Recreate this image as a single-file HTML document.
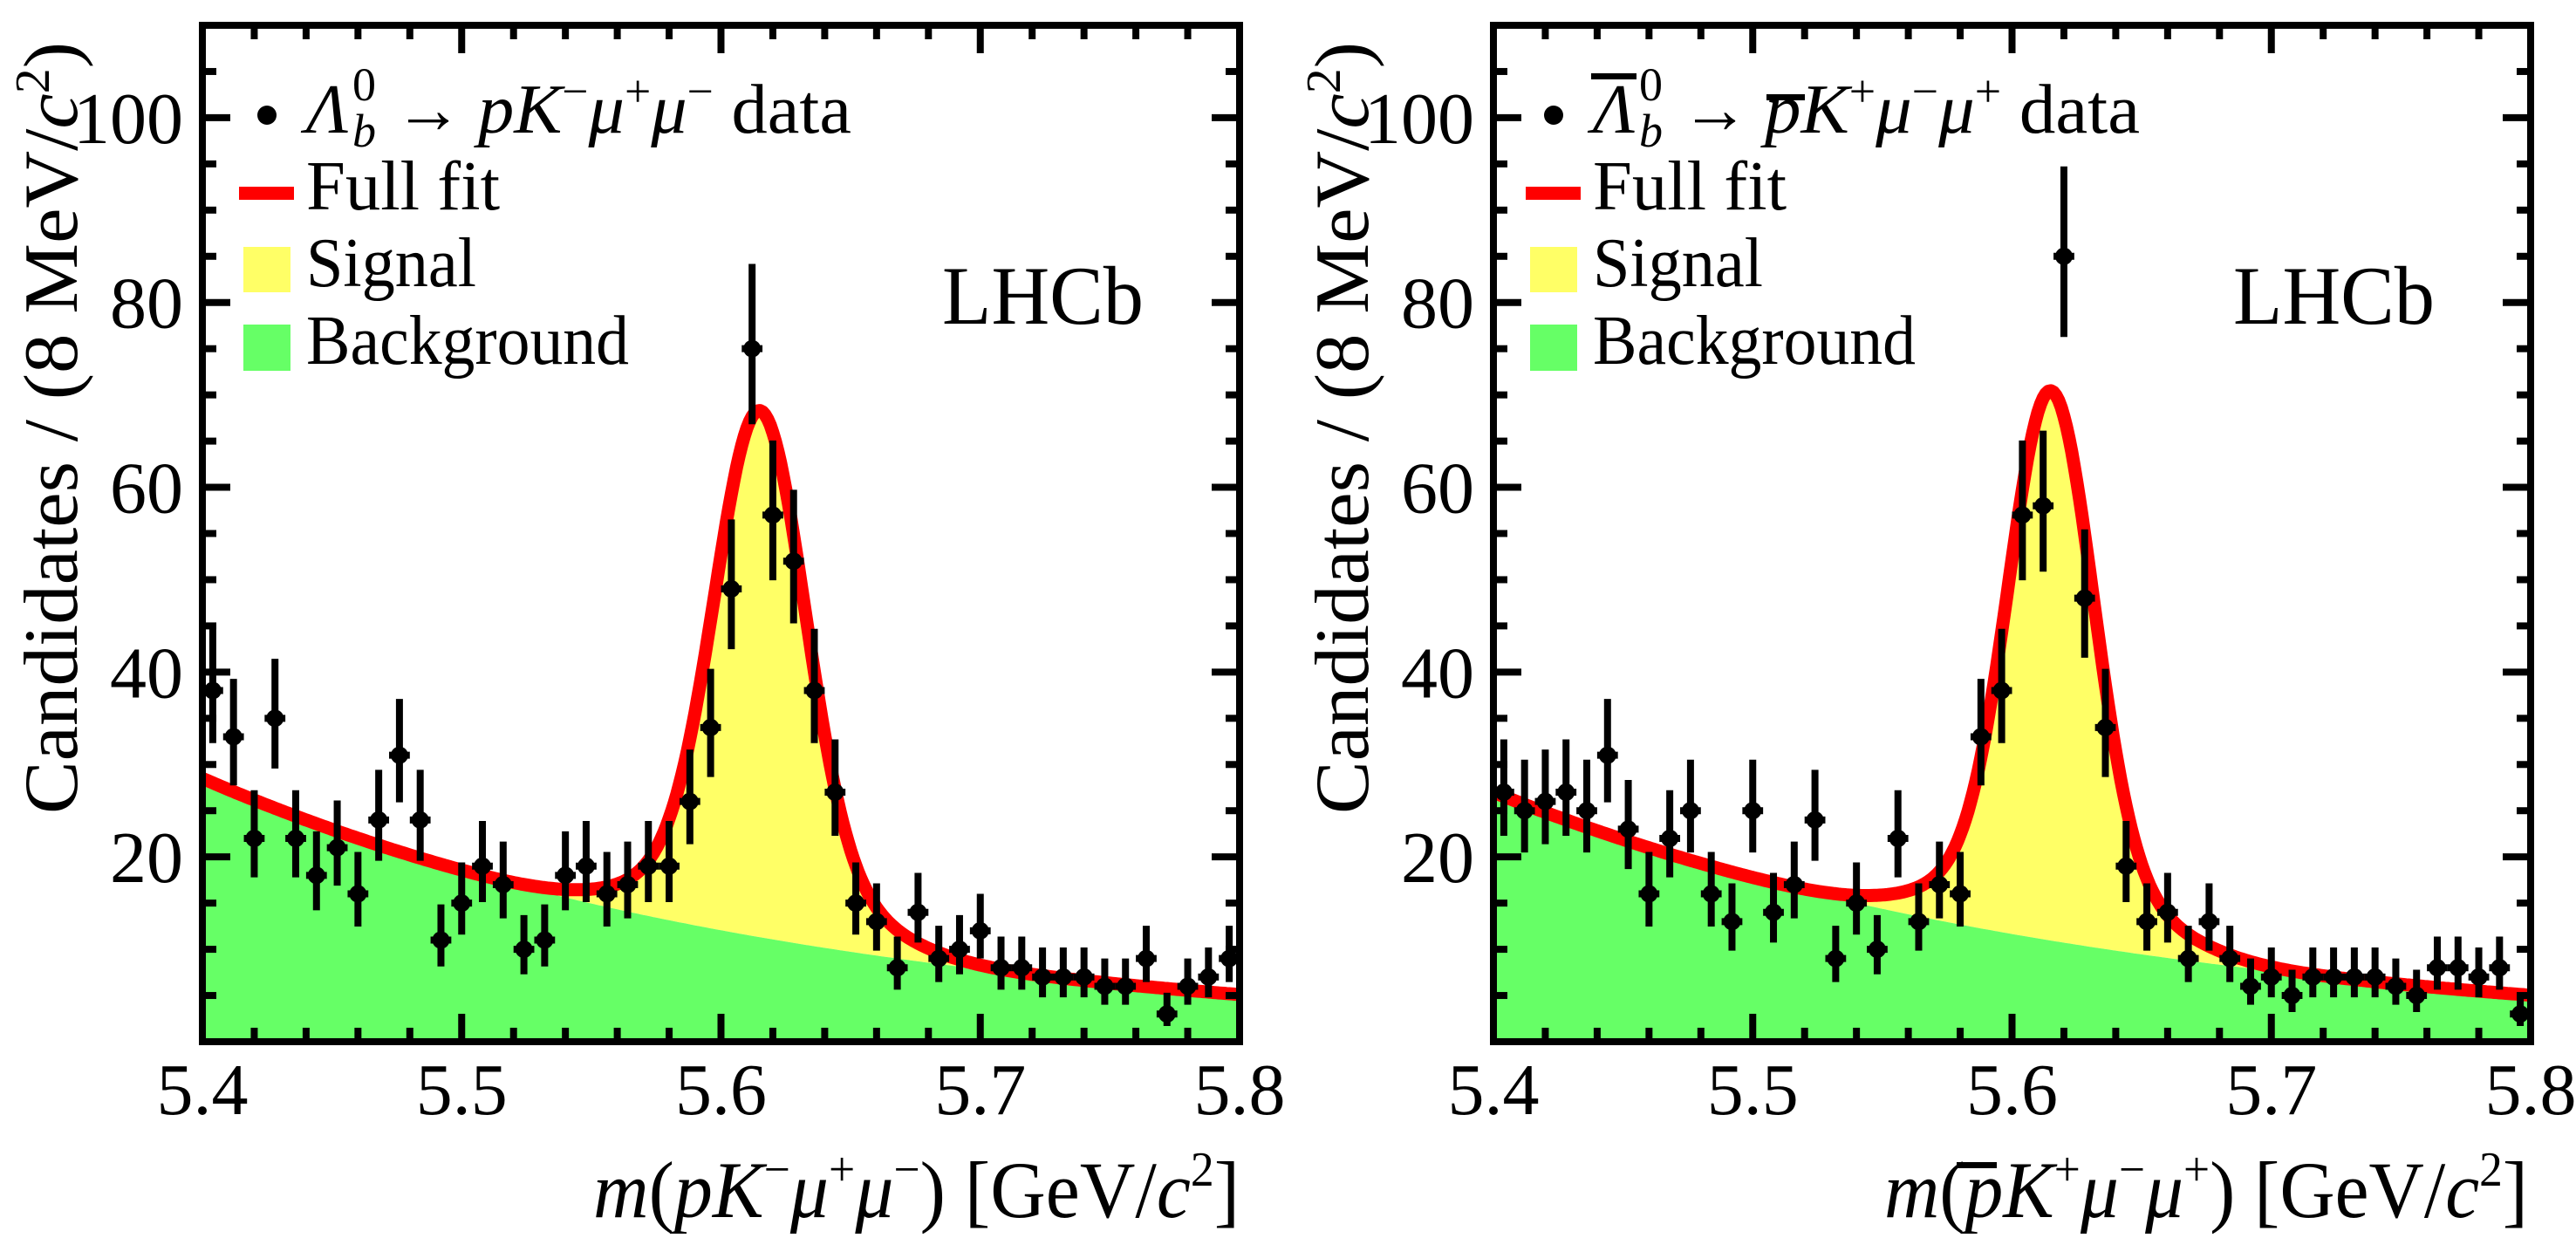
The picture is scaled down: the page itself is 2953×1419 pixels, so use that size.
<!DOCTYPE html>
<html><head><meta charset="utf-8"><style>
html,body{margin:0;padding:0;background:#fff;}
svg, svg text, svg tspan{font-family:"Liberation Serif", "Times New Roman", Times, "DejaVu Serif", serif;}
</style></head><body>
<svg id="chart" width="2953" height="1414" viewBox="0 0 2953 1414" xmlns="http://www.w3.org/2000/svg">
<rect x="0" y="0" width="2953" height="1414" fill="#fff"/>
</svg>
<script>
const binCenters0 = 5.404;
const binWidth = 0.008;
const xTicks = [5.4, 5.5, 5.6, 5.7, 5.8];
const xTickLabels = ["5.4", "5.5", "5.6", "5.7", "5.8"];
const yTicks = [20, 40, 60, 80, 100];
const yTickLabels = ["20", "40", "60", "80", "100"];
const leftCounts = [38,33,22,35,22,18,21,16,24,31, 24,11,15,19,17,10,11,18,19,16, 17,19,19,26,34,49,75,57,52,38, 27,15,13,8,14,9,10,12,8,8, 7,7,7,6,6,9,3,6,7,9];
const rightCounts = [27,25,26,27,25,31,23,16,22,25, 16,13,25,14,17,24,9,15,10,22, 13,17,16,33,38,57,58,85,48,34, 19,13,14,9,13,9,6,7,5,7, 7,7,7,6,5,8,8,7,8,3];
// fit parameters: [bg at 5.4, bg slope, signal amplitude, mean, core sigma, tail sigma, tail fraction]
const leftFit = [28.5, 4.3, 57, 5.615, 0.017, 0.035, 0.15];
const rightFit = [27, 4.2, 59.5, 5.615, 0.016, 0.035, 0.14];

const NS = "http://www.w3.org/2000/svg";
const svg = document.getElementById('chart');
function mk(tag, attrs, parent) {
  const e = document.createElementNS(NS, tag);
  for (const k in attrs) e.setAttribute(k, attrs[k]);
  (parent || svg).appendChild(e);
  return e;
}
const L0 = 232, R0 = 1421, TOP = 29, BOT = 1194, YMAX = 110;
function bg(p, m) { return p[0] * Math.exp(-p[1] * (m - 5.4)); }
function sig(p, m) {
  const d = m - p[3];
  return p[2] * ((1 - p[6]) * Math.exp(-0.5 * d * d / (p[4] * p[4])) + p[6] * Math.exp(-0.5 * d * d / (p[5] * p[5])));
}

function drawPanel(off, counts, fit, idx) {
  const L = L0 + off, R = R0 + off;
  const X = m => L + (m - 5.4) / 0.4 * (R - L);
  const Y = v => BOT - v / YMAX * (BOT - TOP);
  const g = mk('g', {});
  
  
  const clipId = 'clip' + idx;
  const cp = mk('clipPath', {id: clipId}, g);
  mk('rect', {x: L, y: TOP, width: R - L, height: BOT - TOP}, cp);
  const N = 400;
  let bgPts = [], fullPts = [];
  for (let i = 0; i <= N; i++) {
    const m = 5.4 + 0.4 * i / N;
    bgPts.push(X(m).toFixed(1) + ',' + Y(bg(fit, m)).toFixed(1));
    fullPts.push(X(m).toFixed(1) + ',' + Y(bg(fit, m) + sig(fit, m)).toFixed(1));
  }
  const sigArea = mk('polygon', {points: fullPts.join(' ') + ' ' + bgPts.slice().reverse().join(' '), fill: '#ffff66', 'clip-path': 'url(#' + clipId + ')'}, g);
  
  
  const bgArea = mk('polygon', {points: X(5.4) + ',' + BOT + ' ' + bgPts.join(' ') + ' ' + X(5.8) + ',' + BOT, fill: '#66ff66', 'clip-path': 'url(#' + clipId + ')'}, g);
  
  
  const fl = mk('polyline', {points: fullPts.join(' '), fill: 'none', stroke: '#ff0000', 'stroke-width': 15, 'stroke-linejoin': 'round', 'clip-path': 'url(#' + clipId + ')'}, g);
  
  
  counts.forEach((n, i) => {
    const m = binCenters0 + i * binWidth;
    const s = Math.sqrt(n + 0.25);
    const hi = n + 0.5 + s, lo = Math.max(0, n + 0.5 - s);
    const pg = mk('g', {'clip-path': 'url(#' + clipId + ')'}, g);
    
    
    mk('line', {x1: X(m), x2: X(m), y1: Y(hi), y2: Y(lo), stroke: '#000', 'stroke-width': 8}, pg);
    mk('line', {x1: X(m - binWidth / 2), x2: X(m + binWidth / 2), y1: Y(n), y2: Y(n), stroke: '#000', 'stroke-width': 8}, pg);
    mk('circle', {cx: X(m), cy: Y(n), r: 10, fill: '#000'}, pg);
  });
  const fr = mk('rect', {x: L, y: TOP, width: R - L, height: BOT - TOP, fill: 'none', stroke: '#000', 'stroke-width': 8}, g);
  
  
  for (let k = 0; k <= 20; k++) {
    const m = 5.4 + k * 0.02;
    const len = (k % 5 === 0) ? 32 : 16;
    mk('line', {x1: X(m), x2: X(m), y1: BOT, y2: BOT - len, stroke: '#000', 'stroke-width': 8}, g);
    mk('line', {x1: X(m), x2: X(m), y1: TOP, y2: TOP + len, stroke: '#000', 'stroke-width': 8}, g);
  }
  for (let v = 5; v < YMAX; v += 5) {
    const len = (v % 20 === 0) ? 32 : 16;
    mk('line', {x1: L, x2: L + len, y1: Y(v), y2: Y(v), stroke: '#000', 'stroke-width': 8}, g);
    mk('line', {x1: R, x2: R - len, y1: Y(v), y2: Y(v), stroke: '#000', 'stroke-width': 8}, g);
  }
  xTicks.forEach((t, i) => {
    const tl = mk('text', {x: X(t), y: 1277, 'font-size': 84, 'text-anchor': 'middle'}, g);
    tl.textContent = xTickLabels[i];
    
    
  });
  yTicks.forEach((t, i) => {
    const tl = mk('text', {x: L - 22, y: Y(t) + 29, 'font-size': 84, 'text-anchor': 'end'}, g);
    tl.textContent = yTickLabels[i];
    
    
  });
  return g;
}
drawPanel(0, leftCounts, leftFit, 'left');
drawPanel(1480, rightCounts, rightFit, 'right');
</script>
<script>
(function(){
const NS = "http://www.w3.org/2000/svg";
const svg = document.getElementById('chart');
const html = `
<g><text transform="translate(88,48) rotate(-90)" font-size="88" text-anchor="end" textLength="885" lengthAdjust="spacingAndGlyphs">Candidates / (8 MeV/<tspan font-style="italic">c</tspan><tspan font-size="56" dy="-32">2</tspan><tspan dy="32">)</tspan></text></g>
<g><text transform="translate(1568,48) rotate(-90)" font-size="88" text-anchor="end" textLength="885" lengthAdjust="spacingAndGlyphs">Candidates / (8 MeV/<tspan font-style="italic">c</tspan><tspan font-size="56" dy="-32">2</tspan><tspan dy="32">)</tspan></text></g>
<g><text x="680" y="1395" font-size="92" textLength="741" lengthAdjust="spacingAndGlyphs"><tspan font-style="italic">m</tspan>(<tspan font-style="italic">pK</tspan><tspan font-size="56" dy="-36">−</tspan><tspan font-style="italic" dy="36">μ</tspan><tspan font-size="56" dy="-36">+</tspan><tspan font-style="italic" dy="36">μ</tspan><tspan font-size="56" dy="-36">−</tspan><tspan dy="36">) [GeV/</tspan><tspan font-style="italic">c</tspan><tspan font-size="56" dy="-36">2</tspan><tspan dy="36">]</tspan></text></g>
<g><text x="2160" y="1395" font-size="92" textLength="738" lengthAdjust="spacingAndGlyphs"><tspan font-style="italic">m</tspan>(<tspan font-style="italic">pK</tspan><tspan font-size="56" dy="-36">+</tspan><tspan font-style="italic" dy="36">μ</tspan><tspan font-size="56" dy="-36">−</tspan><tspan font-style="italic" dy="36">μ</tspan><tspan font-size="56" dy="-36">+</tspan><tspan dy="36">) [GeV/</tspan><tspan font-style="italic">c</tspan><tspan font-size="56" dy="-36">2</tspan><tspan dy="36">]</tspan></text><rect x="2243" y="1332" width="46" height="7" fill="#000"/></g>
<g><text x="1080" y="371" font-size="95" textLength="231" lengthAdjust="spacingAndGlyphs">LHCb</text></g>
<g><text x="2560" y="371" font-size="95" textLength="231" lengthAdjust="spacingAndGlyphs">LHCb</text></g>
<g>
 <circle cx="306" cy="132" r="11" fill="#000"/>
 <text x="351" y="152" font-size="80" font-style="italic">Λ</text>
 <text x="404" y="115" font-size="54">0</text>
 <text x="404" y="168" font-size="54" font-style="italic">b</text>
 <text x="452" y="152" font-size="80" textLength="78" lengthAdjust="spacingAndGlyphs">→</text>
 <text x="548" y="152" font-size="80" textLength="428" lengthAdjust="spacingAndGlyphs"><tspan font-style="italic">pK</tspan><tspan font-size="52" dy="-30">−</tspan><tspan font-style="italic" dy="30">μ</tspan><tspan font-size="52" dy="-30">+</tspan><tspan font-style="italic" dy="30">μ</tspan><tspan font-size="52" dy="-30">−</tspan><tspan dy="30"> data</tspan></text>
 <rect x="274" y="214" width="63" height="15" fill="#ff0000"/>
 <text x="351" y="240" font-size="80" textLength="222" lengthAdjust="spacingAndGlyphs">Full fit</text>
 <rect x="279" y="283" width="54" height="52" fill="#ffff66"/>
 <text x="351" y="328" font-size="80" textLength="195" lengthAdjust="spacingAndGlyphs">Signal</text>
 <rect x="279" y="372" width="54" height="53" fill="#66ff66"/>
 <text x="351" y="417" font-size="80" textLength="370" lengthAdjust="spacingAndGlyphs">Background</text>
</g>
<g>
 <circle cx="1781" cy="132" r="11" fill="#000"/>
 <rect x="1824" y="84" width="52" height="7" fill="#000"/>
 <text x="1826" y="152" font-size="80" font-style="italic">Λ</text>
 <text x="1879" y="115" font-size="54">0</text>
 <text x="1879" y="168" font-size="54" font-style="italic">b</text>
 <text x="1927" y="152" font-size="80" textLength="78" lengthAdjust="spacingAndGlyphs">→</text>
 <rect x="2025" y="108" width="44" height="7" fill="#000"/>
 <text x="2023" y="152" font-size="80" textLength="430" lengthAdjust="spacingAndGlyphs"><tspan font-style="italic">pK</tspan><tspan font-size="52" dy="-30">+</tspan><tspan font-style="italic" dy="30">μ</tspan><tspan font-size="52" dy="-30">−</tspan><tspan font-style="italic" dy="30">μ</tspan><tspan font-size="52" dy="-30">+</tspan><tspan dy="30"> data</tspan></text>
 <rect x="1749" y="214" width="63" height="15" fill="#ff0000"/>
 <text x="1826" y="240" font-size="80" textLength="222" lengthAdjust="spacingAndGlyphs">Full fit</text>
 <rect x="1754" y="283" width="54" height="52" fill="#ffff66"/>
 <text x="1826" y="328" font-size="80" textLength="195" lengthAdjust="spacingAndGlyphs">Signal</text>
 <rect x="1754" y="372" width="54" height="53" fill="#66ff66"/>
 <text x="1826" y="417" font-size="80" textLength="370" lengthAdjust="spacingAndGlyphs">Background</text>
</g>`;
const tmp = document.createElementNS(NS, 'g');
tmp.innerHTML = html;
while (tmp.firstChild) svg.appendChild(tmp.firstChild);
})();
</script>
</body></html>
